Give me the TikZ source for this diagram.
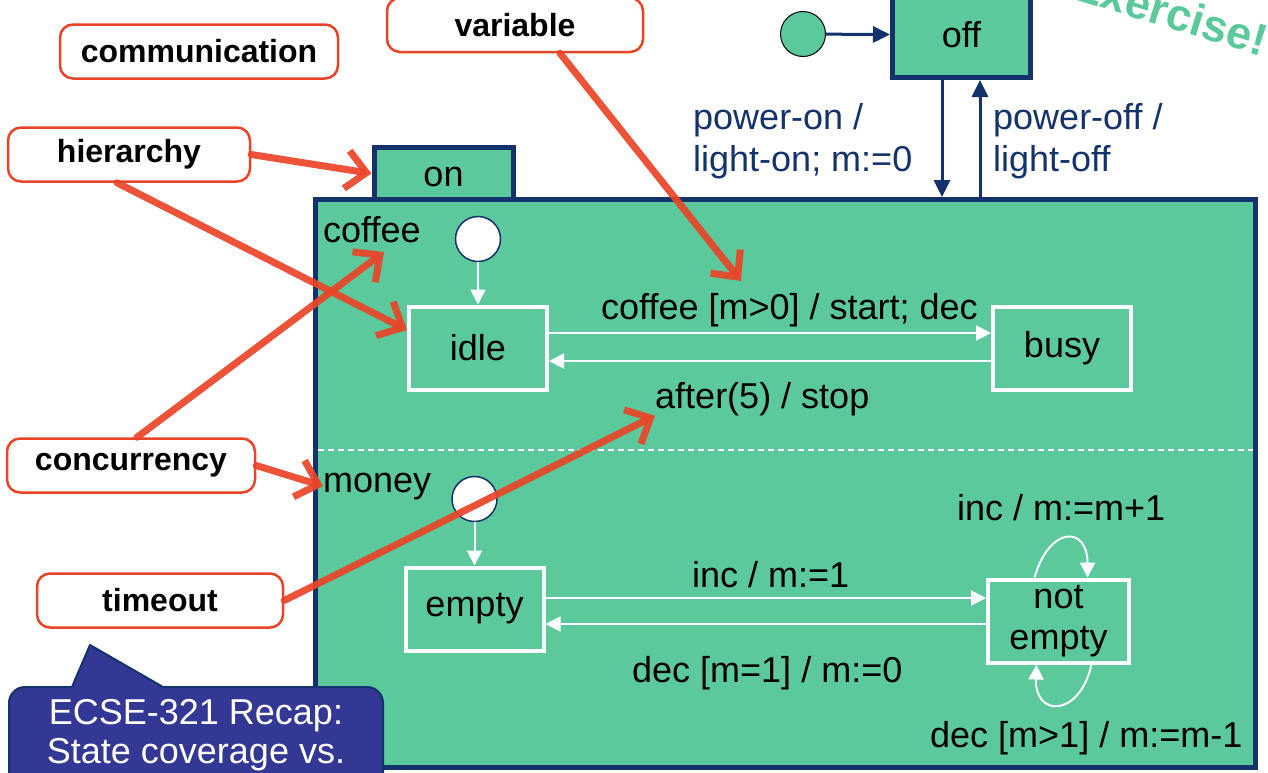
\documentclass[tikz,border=0pt]{standalone}
\usepackage{fontspec}
\setmainfont{Liberation Sans}
\usetikzlibrary{arrows.meta}
\definecolor{stgreen}{RGB}{91,201,155}
\definecolor{navy}{RGB}{20,50,108}
\definecolor{penred}{RGB}{234,68,40}
\definecolor{recapblue}{RGB}{51,56,148}
\newcommand{\statefont}{\fontsize{36}{41}\selectfont}
\newcommand{\remfont}{\bfseries\fontsize{32}{38}\selectfont}
\tikzset{
  x=1pt, y=-1pt,
  stbox/.style={draw=white, line width=4pt, fill=stgreen, minimum width=138pt, minimum height=83pt, font=\statefont, align=center, inner sep=0pt},
  navybox/.style={draw=navy, line width=5pt, fill=stgreen, font=\statefont, inner sep=0pt},
  trans/.style={white, line width=2pt, -{Triangle[length=15pt,width=15pt]}},
  navyarrow/.style={navy, line width=3pt, -{Triangle[length=17pt,width=16pt]}},
  pseudo/.style={circle, minimum size=45pt, inner sep=0pt, line width=1.5pt},
  lbl/.style={font=\statefont, inner sep=0pt, anchor=base west},
  remark/.style={draw=penred, line width=2.5pt, rounded corners=13pt, fill=white, font=\remfont, inner sep=0pt, minimum height=54pt},
  scribble/.style={penred, line width=7pt, line cap=round, line join=round, -{Straight Barb[length=20pt,width=38pt]}, opacity=0.92}
}

\begin{document}
\begin{tikzpicture}
\clip (0,0) rectangle (1268,772);

\node[anchor=base west, rotate=-17, text=stgreen, font=\bfseries\fontsize{45}{50}\selectfont, inner sep=0pt] (exercise) at (1070,-2) {Exercise!};

% top level
\node[pseudo, draw=black, line width=1pt, fill=stgreen] (init) at (803,34) {};
\node[navybox, minimum width=138pt, minimum height=85pt] (off) at (961.5,35) {off};
\draw[navyarrow] (init) to (off);

\node[navybox, minimum width=139pt, minimum height=52pt, text height=26pt] (ontab) at (443.5,173.5) {on};
\node[navybox, minimum width=940pt, minimum height=568pt] (on) at (785.5,483.5) {};

\draw[navyarrow] ([xshift=-19.5pt]off.south) to ([xshift=-19.5pt]off.south |- on.north);
\draw[navyarrow] ([xshift=18.5pt]off.south |- on.north) to ([xshift=18.5pt]off.south);
\node[lbl, text=navy] (pon1) at (693,129) {power-on /};
\node[lbl, text=navy] (pon2) at (693,171) {light-on; m:=0};
\node[lbl, text=navy] (poff1) at (993,129) {power-off /};
\node[lbl, text=navy] (poff2) at (993,171) {light-off};

\coordinate (divl) at (318,450);
\coordinate (divr) at (1253,450);
\draw[white, line width=1.5pt, dash pattern=on 6pt off 4pt] (divl) -- (divr);

% coffee
\node[lbl] (coffeelbl) at (323,242) {coffee};
\node[pseudo, draw=navy, fill=white] (cinit) at (478,239) {};
\node[stbox] (idle) at (478,348) {idle};
\node[stbox] (busy) at (1062,348) {busy};
\draw[trans] (cinit) to (idle);
\draw[trans] ([yshift=15pt]idle.east) to ([yshift=15pt]busy.west);
\draw[trans] ([yshift=-13pt]busy.west) to ([yshift=-13pt]idle.east);
\node[lbl] (brew) at (601,319) {coffee [m>0] / start; dec};
\node[lbl] (after) at (655,408) {after(5) / stop};

% money
\node[lbl] (moneylbl) at (323,492) {money};
\node[pseudo, draw=navy, fill=white] (minit) at (474.5,499) {};
\node[stbox] (empty) at (474.5,609) {empty};
\node[stbox, minimum width=141pt] (notempty) at (1058.5,621) {not\\empty};
\draw[trans] (minit) to (empty);
\draw[trans] ([yshift=11pt]empty.east) to ([yshift=11pt]empty.east -| notempty.west);
\draw[trans] ([yshift=-15pt]empty.east -| notempty.west) to ([yshift=-15pt]empty.east);
\draw[trans] ([xshift=-24pt]notempty.north) .. controls +(15,-52) and +(0,-52) .. ([xshift=29pt]notempty.north);
\draw[trans] ([xshift=33pt]notempty.south) .. controls +(-12,53) and +(-2,53) .. ([xshift=-22pt]notempty.south);
\node[lbl] (inc) at (692,587) {inc / m:=1};
\node[lbl] (dec) at (632,682) {dec [m=1] / m:=0};
\node[lbl] (incself) at (957,520) {inc / m:=m+1};
\node[lbl] (decself) at (930,747) {dec [m>1] / m:=m-1};

% remarks
\node[remark, minimum width=278pt] (communication) at (199,51.5) {communication};
\node[remark, minimum width=256pt] (variable) at (515,25) {variable};
\node[remark, minimum width=242pt] (hierarchy) at (129,154.5) {hierarchy};
\node[remark, minimum width=248pt] (concurrency) at (131,465.5) {concurrency};
\node[remark, minimum width=246pt] (timeout) at (160,600.5) {timeout};

\coordinate (varref) at (741,281);
\coordinate (coffeeref) at (384,252);
\draw[scribble] ([xshift=45pt]variable.south) to (varref);
\draw[scribble] (hierarchy.east) to (ontab.west);
\draw[scribble] ([xshift=-12pt]hierarchy.south) to ([yshift=18pt]idle.west);
\draw[scribble] ([xshift=6pt]concurrency.north) to (coffeeref);
\draw[scribble] (concurrency.east) to (moneylbl.west);
\draw[scribble] (timeout.east) to (after.south west);

% recap
\draw[draw=navy, fill=recapblue, line width=2pt, rounded corners=16pt] (9,800) rectangle (383,687);
\fill[recapblue] (72,687) -- (90,645) -- (163,687) -- (163,692) -- (72,692) -- cycle;
\draw[navy, line width=2pt, line join=round] (72,687) -- (90,645) -- (163,687);
\node[font=\statefont, text=white, anchor=base, inner sep=0pt] (recap1) at (196,724) {ECSE-321 Recap:};
\node[font=\statefont, text=white, anchor=base, inner sep=0pt] (recap2) at (196,763) {State coverage vs.};
\end{tikzpicture}
\end{document}
